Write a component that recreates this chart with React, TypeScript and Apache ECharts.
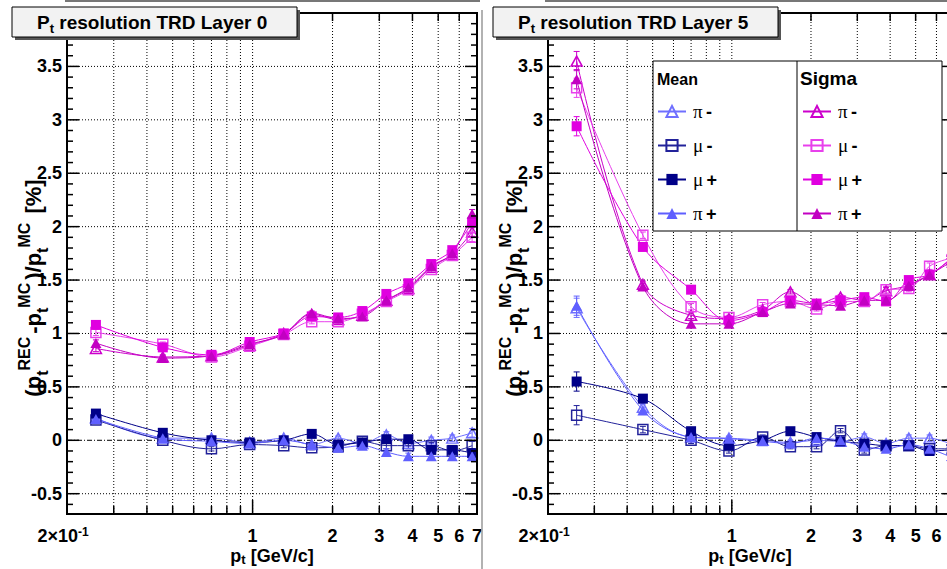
import React, { useEffect, useRef } from "react";
import * as echarts from "echarts";

// ---------------- data ----------------
const ptBins = [0.257, 0.459, 0.7, 0.975, 1.31, 1.67, 2.1, 2.59, 3.19, 3.86, 4.71, 5.65, 6.71];

// TRD Layer 0 : mean
const l0MeanPiMinus = [0.21, 0.02, 0.02, -0.02, 0.02, -0.04, 0.02, -0.03, 0.05, -0.03, 0.0, 0.02, 0.07];
const l0MeanMuMinus = [0.19, 0.0, -0.08, -0.04, -0.05, -0.07, -0.06, -0.01, -0.05, -0.05, -0.05, -0.1, -0.05];
const l0MeanMuPlus = [0.25, 0.07, 0.0, -0.02, 0.0, 0.06, -0.04, -0.02, 0.01, 0.01, -0.09, -0.09, -0.12];
const l0MeanPiPlus = [0.2, 0.02, -0.01, -0.03, 0.0, -0.04, -0.07, -0.05, -0.11, -0.15, -0.15, -0.15, -0.15];
// TRD Layer 0 : sigma
const l0SigmaPiMinus = [0.86, 0.78, 0.79, 0.89, 1.0, 1.18, 1.13, 1.17, 1.31, 1.42, 1.62, 1.74, 1.95];
const l0SigmaMuMinus = [1.01, 0.9, 0.78, 0.88, 0.99, 1.11, 1.11, 1.18, 1.3, 1.41, 1.6, 1.73, 1.9];
const l0SigmaMuPlus = [1.08, 0.87, 0.8, 0.92, 1.0, 1.16, 1.15, 1.21, 1.37, 1.47, 1.65, 1.78, 2.04];
const l0SigmaPiPlus = [0.91, 0.77, 0.79, 0.9, 0.99, 1.19, 1.14, 1.16, 1.31, 1.43, 1.63, 1.75, 2.12];
const l0Errors = [0.03, 0.02, 0.02, 0.02, 0.02, 0.02, 0.02, 0.02, 0.03, 0.03, 0.03, 0.03, 0.04];

// TRD Layer 5 : mean
const l5MeanPiMinus = [1.24, 0.31, 0.03, 0.02, 0.0, -0.02, 0.0, -0.01, 0.03, -0.03, 0.02, 0.02, -0.03];
const l5MeanMuMinus = [0.235, 0.1, 0.0, -0.1, 0.03, -0.06, -0.06, 0.09, -0.09, -0.05, -0.05, -0.08, -0.08];
const l5MeanMuPlus = [0.55, 0.39, 0.085, -0.05, 0.0, 0.085, 0.03, -0.01, -0.03, -0.05, -0.05, -0.1, -0.09];
const l5MeanPiPlus = [1.26, 0.28, 0.03, 0.015, -0.01, -0.03, 0.02, 0.0, -0.06, -0.08, -0.04, -0.08, -0.15];
// TRD Layer 5 : sigma
const l5SigmaPiMinus = [3.55, 1.46, 1.17, 1.14, 1.22, 1.39, 1.27, 1.34, 1.31, 1.4, 1.45, 1.55, 1.68];
const l5SigmaMuMinus = [3.3, 1.92, 1.25, 1.15, 1.27, 1.3, 1.23, 1.3, 1.3, 1.41, 1.42, 1.63, 1.7];
const l5SigmaMuPlus = [2.94, 1.81, 1.41, 1.12, 1.2, 1.31, 1.28, 1.31, 1.34, 1.3, 1.5, 1.55, 1.69];
const l5SigmaPiPlus = [3.38, 1.44, 1.09, 1.09, 1.2, 1.28, 1.27, 1.26, 1.31, 1.31, 1.45, 1.55, 1.66];
const l5Errors = [0.09, 0.03, 0.03, 0.02, 0.02, 0.02, 0.02, 0.02, 0.03, 0.03, 0.03, 0.03, 0.04];

// axes
const xRange = [0.2, 7]; // full histogram range
const xVisibleMax = [7, 6.58]; // right panel is cut by the picture edge
const yRange = [-0.69, 4.0];
const yMajorTicks = [-0.5, 0, 0.5, 1, 1.5, 2, 2.5, 3, 3.5];
const yTickLabels = ["-0.5", "0", "0.5", "1", "1.5", "2", "2.5", "3", "3.5"];
const xGridValues = [0.3, 0.4, 0.5, 0.6, 0.7, 0.8, 0.9, 1, 2, 3, 4, 5, 6, 7];
const xMajorTickValues = [1];
const xLabelValues = [0.2, 1, 2, 3, 4, 5, 6, 7];
const xLabelTexts = ["{m|2×10}{u|-1}", "1", "2", "3", "4", "5", "6", "7"];
const panelTitles = ["Layer 0", "Layer 5"];
const legendLabels = ["π -", "μ -", "μ +", "π +"];
const groupNames = ["Mean", "Sigma"];

// ---------------- styling ----------------
const FONT = "'Liberation Sans', Arial, Helvetica, sans-serif";
const SERIF = "'Liberation Serif', 'DejaVu Serif', serif";

const seriesDefs = [
  { group: 0, label: 0, symbol: "triangle", hollow: true, color: "#6f6fff" },
  { group: 0, label: 1, symbol: "rect", hollow: true, color: "#22229a" },
  { group: 0, label: 2, symbol: "rect", hollow: false, color: "#000088" },
  { group: 0, label: 3, symbol: "triangle", hollow: false, color: "#5f5fff" },
  { group: 1, label: 0, symbol: "triangle", hollow: true, color: "#cc00cc" },
  { group: 1, label: 1, symbol: "rect", hollow: true, color: "#e840ec" },
  { group: 1, label: 2, symbol: "rect", hollow: false, color: "#e000e0" },
  { group: 1, label: 3, symbol: "triangle", hollow: false, color: "#c200c2" },
];

const panels = [
  {
    values: [l0MeanPiMinus, l0MeanMuMinus, l0MeanMuPlus, l0MeanPiPlus, l0SigmaPiMinus, l0SigmaMuMinus, l0SigmaMuPlus, l0SigmaPiPlus],
    errors: l0Errors,
    grid: { left: 67, top: 13, width: 410, height: 501 },
    titleCenter: 272,
  },
  {
    values: [l5MeanPiMinus, l5MeanMuMinus, l5MeanMuPlus, l5MeanPiPlus, l5SigmaPiMinus, l5SigmaMuMinus, l5SigmaMuPlus, l5SigmaPiPlus],
    errors: l5Errors,
    grid: { left: 548, top: 13, width: 399, height: 501 },
    titleCenter: 750,
  },
];

const L = (v: number) => Math.log10(v);
const seriesName = (i: number) => `${groupNames[seriesDefs[i].group]} ${legendLabels[seriesDefs[i].label]}`;

function buildOption() {
  const series: any[] = [];
  const yMinor: number[] = [];
  for (let k = -6; k <= 39; k++) {
    if (k % 5 !== 0) yMinor.push(k / 10);
  }

  panels.forEach((panel, p) => {
    // grid lines
    series.push({
      type: "custom",
      name: `grid${p}`,
      xAxisIndex: p,
      yAxisIndex: p,
      z: 1,
      silent: true,
      data: [[L(1), 0]],
      encode: { x: 0, y: 1 },
      renderItem: (_params: any, api: any) => {
        const [xl, yb] = api.coord([L(xRange[0]), yRange[0]]);
        const [xr, yt] = api.coord([L(xRange[1]), yRange[1]]);
        const children: any[] = [];
        xGridValues.forEach((v) => {
          const x = api.coord([L(v), 0])[0];
          children.push({
            type: "line",
            shape: { x1: x, y1: yt, x2: x, y2: yb },
            style: { stroke: "#000", lineWidth: 1, lineDash: [1, 2] },
          });
        });
        yMajorTicks.forEach((v) => {
          const y = api.coord([L(1), v])[1];
          children.push({
            type: "line",
            shape: { x1: xl, y1: y, x2: xr, y2: y },
            style: { stroke: "#000", lineWidth: 1, lineDash: v === 0 ? [5, 2, 1, 2] : [1, 2] },
          });
        });
        return { type: "group", children };
      },
    });

    // data lines + error bars
    seriesDefs.forEach((def, i) => {
      const vals = panel.values[i];
      series.push({
        type: "custom",
        name: `err${p}_${i}`,
        xAxisIndex: p,
        yAxisIndex: p,
        z: 2,
        silent: true,
        data: ptBins.map((pt, j) => [L(pt), vals[j], panel.errors[j]]),
        encode: { x: 0, y: 1 },
        renderItem: (_params: any, api: any) => {
          const x = api.value(0);
          const y = api.value(1);
          const e = api.value(2);
          const top = api.coord([x, y + e]);
          const bot = api.coord([x, y - e]);
          const st = { stroke: def.color, lineWidth: 1 };
          return {
            type: "group",
            children: [
              { type: "line", shape: { x1: top[0], y1: top[1], x2: bot[0], y2: bot[1] }, style: st },
              { type: "line", shape: { x1: top[0] - 3, y1: top[1], x2: top[0] + 3, y2: top[1] }, style: st },
              { type: "line", shape: { x1: bot[0] - 3, y1: bot[1], x2: bot[0] + 3, y2: bot[1] }, style: st },
            ],
          };
        },
      });
      series.push({
        type: "line",
        name: seriesName(i),
        xAxisIndex: p,
        yAxisIndex: p,
        z: 3,
        smooth: 0.35,
        symbol: def.symbol,
        symbolSize: def.symbol === "rect" ? 10 : [11, 10],
        showAllSymbol: true,
        data: ptBins.map((pt, j) => [L(pt), vals[j]]),
        lineStyle: { color: def.color, width: 1 },
        itemStyle: def.hollow
          ? { color: "rgba(255,255,255,0)", borderColor: def.color, borderWidth: 1.5 }
          : { color: def.color, borderColor: def.color, borderWidth: 0 },
        emphasis: { disabled: true },
      });
    });

    // frame, ticks and labels
    series.push({
      type: "custom",
      name: `frame${p}`,
      xAxisIndex: p,
      yAxisIndex: p,
      z: 10,
      silent: true,
      data: [[L(1), 0]],
      encode: { x: 0, y: 1 },
      renderItem: (_params: any, api: any) => {
        const [xl, yb] = api.coord([L(xRange[0]), yRange[0]]);
        const [xr, yt] = api.coord([L(xRange[1]), yRange[1]]);
        const children: any[] = [];
        const st = { stroke: "#000", lineWidth: 1.5 };
        children.push({
          type: "rect",
          shape: { x: xl, y: yt, width: xr - xl, height: yb - yt },
          style: { fill: "none", stroke: "#000", lineWidth: 2 },
        });
        yMinor.forEach((v) => {
          const y = api.coord([L(1), v])[1];
          children.push({ type: "line", shape: { x1: xl, y1: y, x2: xl + 6, y2: y }, style: st });
          children.push({ type: "line", shape: { x1: xr - 6, y1: y, x2: xr, y2: y }, style: st });
        });
        yMajorTicks.forEach((v, k) => {
          const y = api.coord([L(1), v])[1];
          children.push({ type: "line", shape: { x1: xl, y1: y, x2: xl + 12, y2: y }, style: st });
          children.push({ type: "line", shape: { x1: xr - 12, y1: y, x2: xr, y2: y }, style: st });
          children.push({
            type: "text",
            x: xl - 5,
            y: y,
            style: {
              text: yTickLabels[k],
              fill: "#000",
              fontSize: 18,
              fontWeight: "bold",
              fontFamily: FONT,
              align: "right",
              verticalAlign: "middle",
            },
          });
        });
        xGridValues.forEach((v) => {
          const x = api.coord([L(v), 0])[0];
          const len = xMajorTickValues.indexOf(v) >= 0 ? 14 : 8;
          children.push({ type: "line", shape: { x1: x, y1: yb, x2: x, y2: yb - len }, style: st });
          children.push({ type: "line", shape: { x1: x, y1: yt, x2: x, y2: yt + len }, style: st });
        });
        xLabelValues.forEach((v, k) => {
          if (v > xVisibleMax[p] + 1e-9) return;
          const x = api.coord([L(v), 0])[0];
          children.push({
            type: "text",
            x: k === 0 ? x - 4 : x,
            y: yb + 22,
            style: {
              text: xLabelTexts[k],
              fill: "#000",
              fontSize: 18,
              fontWeight: "bold",
              fontFamily: FONT,
              lineHeight: 18,
              align: "center",
              verticalAlign: "middle",
              rich: {
                m: { fontSize: 18, fontWeight: "bold", fontFamily: FONT, lineHeight: 20, verticalAlign: "middle" },
                u: { fontSize: 12, fontWeight: "bold", fontFamily: FONT, lineHeight: 12, verticalAlign: "top" },
              },
            },
          });
        });
        return { type: "group", children };
      },
    });
  });

  // ---------------- graphic (titles, legend box) ----------------
  const graphic: any[] = [];
  // pad borders
  graphic.push({ type: "line", z: 50, shape: { x1: 65, y1: 1, x2: 480, y2: 1 }, style: { stroke: "#777", lineWidth: 2 } });
  graphic.push({ type: "line", z: 50, shape: { x1: 545, y1: 1, x2: 947, y2: 1 }, style: { stroke: "#777", lineWidth: 2 } });
  graphic.push({ type: "line", z: 50, shape: { x1: 482, y1: 10, x2: 482, y2: 569 }, style: { stroke: "#999", lineWidth: 1.5 } });

  const mainRich = {
    m: { fontSize: 19, fontWeight: "bold", fontFamily: FONT, lineHeight: 26, verticalAlign: "middle", fill: "#000" },
    d: { fontSize: 13, fontWeight: "bold", fontFamily: FONT, lineHeight: 13, verticalAlign: "bottom", fill: "#000" },
  };

  panels.forEach((panel, p) => {
    const gx = panel.grid.left;
    const off = gx - 67;
    // title box
    graphic.push({ type: "rect", z: 50, shape: { x: 15 + off, y: 10, width: 285, height: 30 }, style: { fill: "#555" } });
    graphic.push({
      type: "rect",
      z: 51,
      shape: { x: 12 + off, y: 7, width: 285, height: 30 },
      style: { fill: "#f2f2f2", stroke: "#000", lineWidth: 1 },
    });
    graphic.push({
      type: "text",
      z: 52,
      x: 37 + off,
      y: 22,
      style: {
        text: `{m|P}{d|t}{m| resolution TRD ${panelTitles[p]}}`,
        rich: mainRich,
        align: "left",
        verticalAlign: "middle",
        fill: "#000",
      },
    });
    // y title
    graphic.push({
      type: "text",
      z: 52,
      x: 33 + off,
      y: 288,
      rotation: Math.PI / 2,
      style: {
        text: "{m|(p}{d|t}{u|REC}{m|-p}{d|t}{u|MC}{m|)/p}{d|t}{u|MC}{m| [%]}",
        align: "center",
        verticalAlign: "middle",
        fill: "#000",
        rich: {
          m: { fontSize: 22, fontWeight: "bold", fontFamily: FONT, lineHeight: 34, verticalAlign: "middle", fill: "#000" },
          d: { fontSize: 16, fontWeight: "bold", fontFamily: FONT, lineHeight: 16, verticalAlign: "bottom", fill: "#000" },
          u: { fontSize: 16, fontWeight: "bold", fontFamily: FONT, lineHeight: 16, verticalAlign: "top", fill: "#000", padding: [0, 3, 0, 0] },
        },
      },
    });
    // x title
    graphic.push({
      type: "text",
      z: 52,
      x: panel.titleCenter,
      y: 556,
      style: {
        text: "{m|p}{d|t}{m| [GeV/c]}",
        align: "center",
        verticalAlign: "middle",
        fill: "#000",
        rich: {
          m: { fontSize: 18, fontWeight: "bold", fontFamily: FONT, lineHeight: 20, verticalAlign: "middle", fill: "#000" },
          d: { fontSize: 13, fontWeight: "bold", fontFamily: FONT, lineHeight: 11, verticalAlign: "bottom", fill: "#000" },
        },
      },
    });
  });

  // legend box
  graphic.push({
    type: "rect",
    z: 60,
    shape: { x: 653, y: 61, width: 289, height: 170 },
    style: { fill: "#fff", stroke: "#000", lineWidth: 1 },
  });
  graphic.push({ type: "line", z: 61, shape: { x1: 797, y1: 61, x2: 797, y2: 231 }, style: { stroke: "#000", lineWidth: 1 } });
  graphic.push({
    type: "text",
    z: 61,
    x: 657,
    y: 79,
    style: { text: groupNames[0], fontSize: 16, fontWeight: "bold", fontFamily: FONT, fill: "#000", align: "left", verticalAlign: "middle" },
  });
  graphic.push({
    type: "text",
    z: 61,
    x: 800,
    y: 78,
    style: { text: groupNames[1], fontSize: 19, fontWeight: "bold", fontFamily: FONT, fill: "#000", align: "left", verticalAlign: "middle" },
  });

  const legendText = {
    color: "#000",
    lineHeight: 14,
    rich: {
      g: { fontFamily: SERIF, fontSize: 19, color: "#000", lineHeight: 14, padding: [0, 0, 0, 2] },
      b: { fontFamily: FONT, fontWeight: "bold", fontSize: 18, color: "#000", lineHeight: 14 },
    },
  };
  const fmt = (name: string) => {
    const lab = name.replace(/^(Mean|Sigma) /, "");
    const parts = lab.split(" ");
    return `{g|${parts[0]}} {b|${parts[1]}}`;
  };
  const legend = [0, 1].map((g) => ({
    data: seriesDefs.map((d, i) => ({ d, i })).filter((o) => o.d.group === g).map((o) => seriesName(o.i)),
    orient: "vertical",
    left: g === 0 ? 657 : 802,
    top: 102,
    padding: 0,
    itemWidth: 28,
    itemHeight: 14,
    itemGap: 15,
    selectedMode: false,
    z: 70,
    formatter: fmt,
    textStyle: legendText,
  }));

  return {
    animation: false,
    backgroundColor: "#fff",
    grid: panels.map((p) => ({ ...p.grid, containLabel: false })),
    xAxis: panels.map((_p, i) => ({
      type: "value",
      gridIndex: i,
      min: L(xRange[0]),
      max: L(xVisibleMax[i]),
      show: false,
    })),
    yAxis: panels.map((_p, i) => ({
      type: "value",
      gridIndex: i,
      min: yRange[0],
      max: yRange[1],
      show: false,
    })),
    legend,
    graphic,
    series,
  };
}

export default function App() {
  const ref = useRef<HTMLDivElement>(null);
  useEffect(() => {
    if (!ref.current) return;
    const chart = echarts.init(ref.current, undefined, { renderer: "svg" });
    chart.setOption(buildOption() as any);
    return () => chart.dispose();
  }, []);
  return (
    <div
      ref={ref}
      style={{ position: "fixed", left: 0, top: 0, width: 947, height: 569, background: "#fff" }}
    />
  );
}
